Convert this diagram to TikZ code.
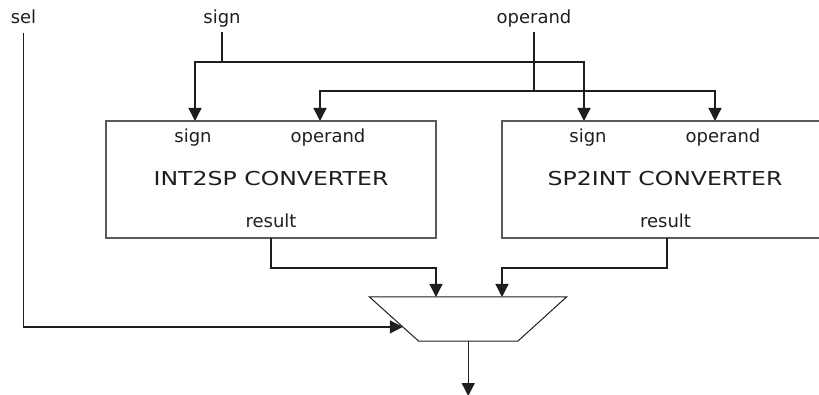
\documentclass[tikz,border=0pt]{standalone}
\usepackage{fontspec}
\usepackage{graphicx}
\setmainfont{DejaVu Sans}
\usetikzlibrary{arrows.meta,calc}
\definecolor{ink}{HTML}{1E1E1E}
\definecolor{frame}{HTML}{5A5A5A}

\begin{document}
\begin{tikzpicture}[x=1pt,y=-1pt,
  wire/.style={draw=ink,line width=1.3pt},
  arr/.style={wire,-{Triangle[length=13pt,width=13pt]}},
  port/.style={font=\fontsize{18pt}{20pt}\selectfont,text=ink,anchor=base,inner sep=0pt},
  title/.style={font=\fontsize{19.2pt}{22pt}\selectfont,text=ink,anchor=base,inner sep=0pt},
  conv/.style={draw=frame,line width=1.1pt,minimum width=330pt,minimum height=117pt,
               inner sep=0pt,outer sep=0pt,anchor=north west},
  muxshape/.style={draw=ink,line width=1pt,line join=miter}]

\useasboundingbox (0,0) rectangle (819,395);
\clip (0,0) rectangle (819,395);

% input labels
\node[port] (sel)     at (23.5,24) {sel};
\node[port] (sign)    at (222,24)  {sign};
\node[port] (operand) at (534,24)  {operand};

% converter blocks (the right one runs past the page edge)
\node[conv] (int2sp) at (106,121) {};
\node[conv] (sp2int) at (502,121) {};

\node[port]  (int2sp-sl) at ($(int2sp.north west)+(87,21.5)$)  {sign};
\node[port]  (int2sp-ol) at ($(int2sp.north west)+(222,21.5)$) {operand};
\node[title] (int2sp-t)  at ($(int2sp.north west)+(165,65)$)   {\scalebox{1.228}[1]{INT2SP CONVERTER}};
\node[port]  (int2sp-rl) at ($(int2sp.north west)+(165,106.5)$) {result};

\node[port]  (sp2int-sl) at ($(sp2int.north west)+(86,21.5)$)  {sign};
\node[port]  (sp2int-ol) at ($(sp2int.north west)+(221,21.5)$) {operand};
\node[title] (sp2int-t)  at ($(sp2int.north west)+(163,65)$)   {\scalebox{1.228}[1]{SP2INT CONVERTER}};
\node[port]  (sp2int-rl) at ($(sp2int.north west)+(163.5,106.5)$) {result};

% input pins on the block tops
\coordinate (int2sp-s) at ($(int2sp.north west)+(89,0)$);
\coordinate (int2sp-o) at ($(int2sp.north west)+(214,0)$);
\coordinate (sp2int-s) at ($(sp2int.north west)+(82,0)$);
\coordinate (sp2int-o) at ($(sp2int.north west)+(213,0)$);

% multiplexer
\coordinate (mux-tl) at (369.5,297);
\coordinate (mux-tr) at (566.5,297);
\coordinate (mux-br) at (518,341);
\coordinate (mux-bl) at (418.5,341);
\draw[muxshape] (mux-tl) -- (mux-tr) -- (mux-br) -- (mux-bl) -- cycle;
\coordinate (mux-a)   at (436,297);
\coordinate (mux-b)   at (502,297);
\coordinate (mux-sel) at ($(mux-tl)!0.68!(mux-bl)$);
\coordinate (mux-out) at ($(mux-bl)!0.5!(mux-br)$);
\coordinate (out-end) at ($(mux-out)+(0,55)$);

% sign bus
\coordinate (signbus) at (222,62);
\draw[wire] ([yshift=-8pt]sign.base) -- (signbus);
\draw[arr] (signbus) -| (int2sp-s);
\draw[arr] (signbus) -| (sp2int-s);

% operand bus
\coordinate (opbus) at (534,91);
\draw[wire] ([yshift=-8pt]operand.base) -- (opbus);
\draw[arr] (opbus) -| (int2sp-o);
\draw[arr] (opbus) -| (sp2int-o);

% results into the multiplexer
\draw[arr] (int2sp.south) -- ++(0,30) -| (mux-a);
\draw[arr] (sp2int.south) -- ++(0,30) -| (mux-b);

% select line and output
\draw[arr] ([yshift=-9pt]sel.base) |- (mux-sel);
\draw[arr] (mux-out) -- (out-end);
\end{tikzpicture}
\end{document}
